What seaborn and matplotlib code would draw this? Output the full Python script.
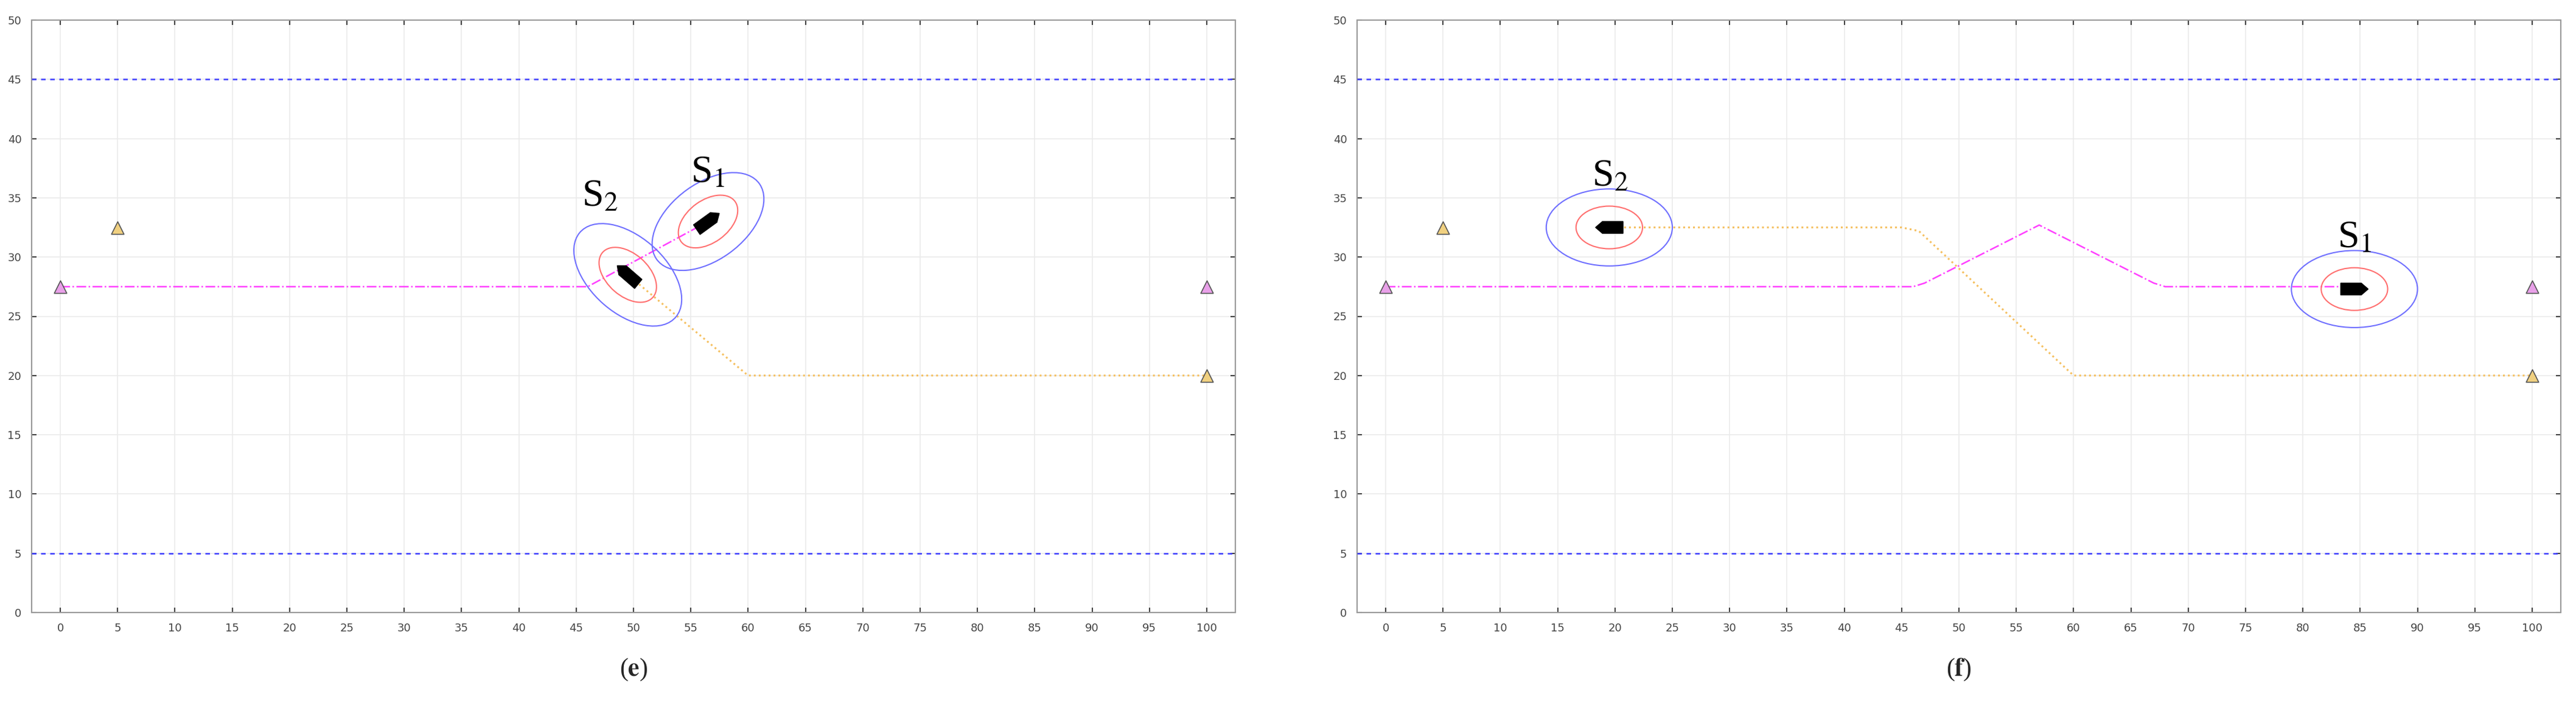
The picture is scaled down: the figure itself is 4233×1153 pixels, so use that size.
import numpy as np
import pandas as pd
import matplotlib
matplotlib.use("Agg")
import matplotlib.pyplot as plt
import seaborn as sns
from matplotlib.patches import Ellipse, Polygon

sns.set_theme(style="whitegrid")
plt.rcParams['font.family'] = ['DejaVu Sans']
plt.rcParams['mathtext.fontset'] = 'stix'

# panel (e)
e_mag_x = [0, 46, 56.5]
e_mag_y = [27.5, 27.5, 33.0]
e_yel_x = [49.5, 60, 100]
e_yel_y = [28.5, 20, 20]
e_ships = [("S$_1$", 56.5, 33.0, 35, 55.0, 36.3), ("S$_2$", 49.5, 28.5, 140, 45.5, 34.3)]
# panel (f)
f_mag_x = [0, 46, 47, 57, 67, 68, 84.5]
f_mag_y = [27.5, 27.5, 27.8, 32.7, 27.8, 27.5, 27.5]
f_yel_x = [19.5, 45, 46.5, 60, 100]
f_yel_y = [32.5, 32.5, 32.2, 20, 20]
f_ships = [("S$_1$", 84.5, 27.3, 0, 83.0, 30.8), ("S$_2$", 19.5, 32.5, 180, 18.0, 36.0)]

mag_targets_x = [0, 100]; mag_targets_y = [27.5, 27.5]
yel_targets_x = [5, 100]; yel_targets_y = [32.5, 20]
bounds = [45, 5]

fig = plt.figure(figsize=(42.33, 11.53), dpi=100)
ax1 = fig.add_axes([52/4233, 1-1006/1153, (2030-52)/4233, 973/1153])
ax2 = fig.add_axes([2230/4233, 1-1006/1153, (4208-2230)/4233, 973/1153])

def ship(ax, x, y, ang):
    L, W = 1.2, 0.5
    pts = np.array([[-L, -W], [0.5*L, -W], [L, 0], [0.5*L, W], [-L, W]])
    t = np.deg2rad(ang)
    R = np.array([[np.cos(t), -np.sin(t)], [np.sin(t), np.cos(t)]])
    p = pts @ R.T + [x, y]
    ax.add_patch(Polygon(p, closed=True, color='black', zorder=6))

def panel(ax, mx, my, yx, yy, ships, cap):
    sns.lineplot(x=mx, y=my, sort=False, ax=ax, color='#FF40FF', lw=1.8, linestyle='-.', zorder=4)
    sns.lineplot(x=yx, y=yy, sort=False, ax=ax, color='#F5C060', lw=2.2, linestyle=':', zorder=4)
    for b in bounds:
        ax.axhline(b, color='#4040FF', lw=1.8, ls=(0, (3, 3)), zorder=3)
    sns.scatterplot(x=mag_targets_x, y=mag_targets_y, ax=ax, marker='^', s=220, color='#E8A0E8', edgecolor='#555555', linewidth=1.2, zorder=5)
    sns.scatterplot(x=yel_targets_x, y=yel_targets_y, ax=ax, marker='^', s=220, color='#F0D080', edgecolor='#555555', linewidth=1.2, zorder=5)
    for lab, x, y, ang, tx, ty in ships:
        ax.add_patch(Ellipse((x, y), 11, 6.5, angle=ang, fill=False, ec='#7070FF', lw=1.5, zorder=5))
        ax.add_patch(Ellipse((x, y), 5.8, 3.6, angle=ang, fill=False, ec='#FF7070', lw=1.5, zorder=5))
        ship(ax, x, y, ang)
        ax.text(tx, ty, lab, fontsize=46, family=['Liberation Serif', 'DejaVu Serif'], color='black', zorder=7)
    ax.set_xlim(-2.5, 102.5); ax.set_ylim(0, 50)
    ax.set_xticks(np.arange(0, 101, 5)); ax.set_yticks(np.arange(0, 51, 5))
    ax.tick_params(labelsize=13, colors='#444444', length=6, width=1.5, direction='in', pad=12)
    ax.tick_params(top=True, right=True, bottom=True, left=True)
    ax.grid(color='#EBEBEB', lw=1.2)
    for s in ax.spines.values():
        s.set_color('#999999'); s.set_linewidth(1.5)
    ax.set_xlabel(''); ax.set_ylabel('')
    ax.text(0.5, -0.075, cap, transform=ax.transAxes, ha='center', va='top', fontsize=30, family=['Liberation Serif', 'DejaVu Serif'])

panel(ax1, e_mag_x, e_mag_y, e_yel_x, e_yel_y, e_ships, r"($\mathbf{e}$)")
panel(ax2, f_mag_x, f_mag_y, f_yel_x, f_yel_y, f_ships, r"($\mathbf{f}$)")
fig.savefig("out.png", dpi=100)
